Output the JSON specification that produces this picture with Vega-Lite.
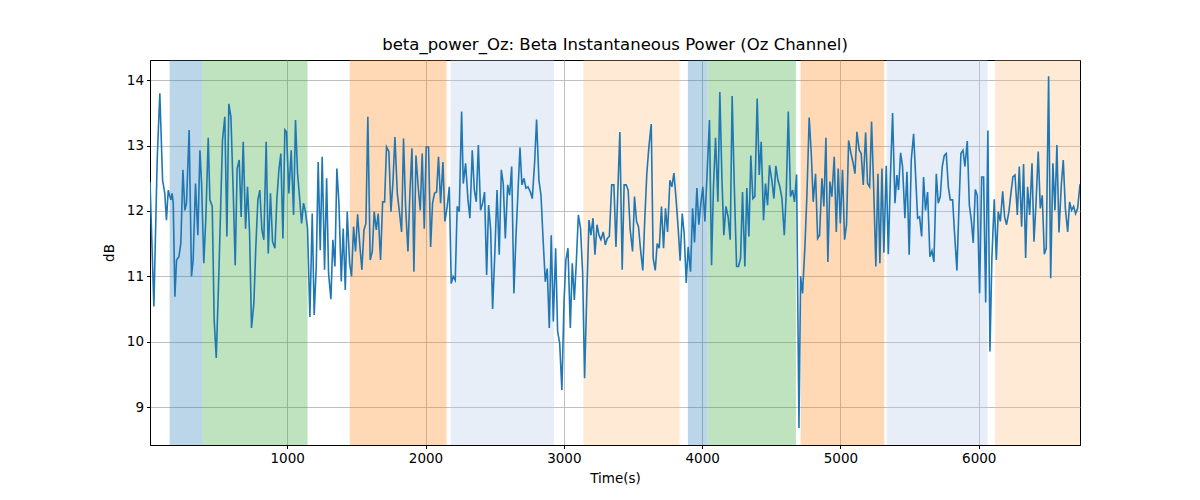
{
  "$schema": "https://vega.github.io/schema/vega-lite/v6.json",
  "width": 930,
  "height": 385,
  "autosize": {"type": "none"},
  "padding": {"left": 150, "top": 60, "right": 120, "bottom": 55},
  "background": "white",
  "title": {
    "text": "beta_power_Oz: Beta Instantaneous Power (Oz Channel)",
    "font": "DejaVu Sans",
    "fontSize": 16.5,
    "fontWeight": "normal",
    "color": "black",
    "offset": 7
  },
  "config": {
    "view": {"stroke": "black", "strokeWidth": 1},
    "axis": {
      "labelFont": "DejaVu Sans",
      "labelFontSize": 13.5,
      "labelColor": "black",
      "titleFont": "DejaVu Sans",
      "titleFontSize": 13.5,
      "titleFontWeight": "normal",
      "titleColor": "black",
      "domainColor": "black",
      "tickColor": "black",
      "tickSize": 3.5,
      "labelPadding": 3,
      "gridColor": "#b0b0b0",
      "gridWidth": 0.8,
      "gridOpacity": 1
    }
  },
  "datasets": {
    "spans": [
      {"start": 150, "end": 388, "phase": "s1"},
      {"start": 388, "end": 1147, "phase": "s2"},
      {"start": 1453, "end": 2152, "phase": "s3"},
      {"start": 2181, "end": 2929, "phase": "s4"},
      {"start": 3141, "end": 3837, "phase": "s5"},
      {"start": 3897, "end": 4039, "phase": "s1"},
      {"start": 4039, "end": 4678, "phase": "s2"},
      {"start": 4712, "end": 5317, "phase": "s3"},
      {"start": 5334, "end": 6064, "phase": "s4"},
      {"start": 6117, "end": 6732, "phase": "s5"}
    ],
    "power": [
      {"t": 8, "db": 12.45}, {"t": 36, "db": 10.54}, {"t": 60, "db": 12.78}, {"t": 79, "db": 13.8},
      {"t": 99, "db": 12.47}, {"t": 115, "db": 12.27}, {"t": 127, "db": 11.86}, {"t": 140, "db": 12.32},
      {"t": 152, "db": 12.22}, {"t": 159, "db": 12.17}, {"t": 168, "db": 12.27}, {"t": 176, "db": 12.12},
      {"t": 188, "db": 10.69}, {"t": 200, "db": 11.25}, {"t": 217, "db": 11.3}, {"t": 231, "db": 11.51},
      {"t": 246, "db": 12.63}, {"t": 260, "db": 12.01}, {"t": 272, "db": 12.12}, {"t": 291, "db": 13.24},
      {"t": 308, "db": 11.0}, {"t": 320, "db": 11.25}, {"t": 337, "db": 12.42}, {"t": 354, "db": 11.63},
      {"t": 369, "db": 12.93}, {"t": 381, "db": 12.42}, {"t": 397, "db": 11.2}, {"t": 412, "db": 11.91},
      {"t": 429, "db": 13.12}, {"t": 441, "db": 12.17}, {"t": 458, "db": 12.07}, {"t": 472, "db": 10.33},
      {"t": 487, "db": 9.75}, {"t": 506, "db": 11.05}, {"t": 532, "db": 13.08}, {"t": 549, "db": 13.44},
      {"t": 564, "db": 11.61}, {"t": 578, "db": 13.64}, {"t": 593, "db": 13.44}, {"t": 610, "db": 12.27},
      {"t": 624, "db": 11.17}, {"t": 638, "db": 12.65}, {"t": 653, "db": 12.78}, {"t": 667, "db": 11.91},
      {"t": 682, "db": 13.06}, {"t": 699, "db": 11.73}, {"t": 713, "db": 12.37}, {"t": 728, "db": 11.66},
      {"t": 742, "db": 10.21}, {"t": 759, "db": 10.59}, {"t": 773, "db": 11.45}, {"t": 788, "db": 12.17},
      {"t": 802, "db": 12.32}, {"t": 817, "db": 11.71}, {"t": 831, "db": 11.56}, {"t": 848, "db": 13.06},
      {"t": 863, "db": 11.35}, {"t": 879, "db": 12.27}, {"t": 894, "db": 11.53}, {"t": 911, "db": 11.43},
      {"t": 925, "db": 12.17}, {"t": 940, "db": 12.63}, {"t": 954, "db": 12.88}, {"t": 969, "db": 11.58},
      {"t": 983, "db": 13.24}, {"t": 995, "db": 13.21}, {"t": 1012, "db": 12.27}, {"t": 1029, "db": 12.93},
      {"t": 1046, "db": 11.94}, {"t": 1060, "db": 13.39}, {"t": 1075, "db": 12.57}, {"t": 1089, "db": 12.22},
      {"t": 1104, "db": 11.81}, {"t": 1118, "db": 12.12}, {"t": 1132, "db": 11.99}, {"t": 1147, "db": 11.73},
      {"t": 1164, "db": 10.38}, {"t": 1181, "db": 11.96}, {"t": 1195, "db": 10.41}, {"t": 1210, "db": 11.15},
      {"t": 1224, "db": 12.75}, {"t": 1239, "db": 11.4}, {"t": 1253, "db": 12.83}, {"t": 1270, "db": 11.1},
      {"t": 1285, "db": 12.5}, {"t": 1299, "db": 11.05}, {"t": 1316, "db": 10.65}, {"t": 1330, "db": 11.56},
      {"t": 1345, "db": 11.15}, {"t": 1359, "db": 12.65}, {"t": 1374, "db": 12.12}, {"t": 1391, "db": 10.92},
      {"t": 1405, "db": 11.73}, {"t": 1420, "db": 10.79}, {"t": 1434, "db": 11.99}, {"t": 1451, "db": 11.2},
      {"t": 1465, "db": 11.0}, {"t": 1480, "db": 11.76}, {"t": 1494, "db": 11.38}, {"t": 1509, "db": 11.95},
      {"t": 1526, "db": 11.45}, {"t": 1540, "db": 11.1}, {"t": 1555, "db": 11.71}, {"t": 1569, "db": 11.81},
      {"t": 1583, "db": 13.44}, {"t": 1600, "db": 11.25}, {"t": 1615, "db": 11.38}, {"t": 1629, "db": 11.99},
      {"t": 1644, "db": 11.71}, {"t": 1658, "db": 11.96}, {"t": 1675, "db": 11.25}, {"t": 1690, "db": 12.14},
      {"t": 1704, "db": 12.14}, {"t": 1718, "db": 12.98}, {"t": 1735, "db": 12.91}, {"t": 1750, "db": 11.99},
      {"t": 1764, "db": 12.42}, {"t": 1779, "db": 13.13}, {"t": 1796, "db": 12.27}, {"t": 1810, "db": 12.01},
      {"t": 1827, "db": 11.68}, {"t": 1841, "db": 13.11}, {"t": 1856, "db": 12.07}, {"t": 1873, "db": 11.38},
      {"t": 1887, "db": 12.27}, {"t": 1902, "db": 12.96}, {"t": 1916, "db": 11.07}, {"t": 1931, "db": 12.85},
      {"t": 1947, "db": 12.37}, {"t": 1962, "db": 12.01}, {"t": 1976, "db": 12.88}, {"t": 1991, "db": 11.73},
      {"t": 2005, "db": 12.98}, {"t": 2022, "db": 12.98}, {"t": 2037, "db": 11.45}, {"t": 2051, "db": 12.12},
      {"t": 2065, "db": 12.27}, {"t": 2080, "db": 12.29}, {"t": 2094, "db": 12.83}, {"t": 2109, "db": 12.12},
      {"t": 2126, "db": 12.75}, {"t": 2140, "db": 11.84}, {"t": 2157, "db": 12.07}, {"t": 2172, "db": 12.37},
      {"t": 2186, "db": 10.89}, {"t": 2200, "db": 11.0}, {"t": 2215, "db": 10.94}, {"t": 2229, "db": 12.07},
      {"t": 2244, "db": 11.99}, {"t": 2261, "db": 13.52}, {"t": 2273, "db": 12.42}, {"t": 2290, "db": 12.73},
      {"t": 2307, "db": 12.17}, {"t": 2321, "db": 11.89}, {"t": 2338, "db": 12.93}, {"t": 2353, "db": 12.32},
      {"t": 2367, "db": 12.14}, {"t": 2382, "db": 13.01}, {"t": 2398, "db": 12.01}, {"t": 2413, "db": 12.12},
      {"t": 2427, "db": 12.29}, {"t": 2442, "db": 11.02}, {"t": 2456, "db": 12.09}, {"t": 2471, "db": 11.71},
      {"t": 2485, "db": 10.5}, {"t": 2502, "db": 11.4}, {"t": 2517, "db": 12.32}, {"t": 2533, "db": 11.33},
      {"t": 2548, "db": 12.63}, {"t": 2562, "db": 12.42}, {"t": 2577, "db": 11.58}, {"t": 2594, "db": 12.4},
      {"t": 2608, "db": 12.24}, {"t": 2623, "db": 12.68}, {"t": 2639, "db": 10.74}, {"t": 2654, "db": 11.61},
      {"t": 2668, "db": 12.27}, {"t": 2683, "db": 12.97}, {"t": 2697, "db": 12.4}, {"t": 2712, "db": 12.5},
      {"t": 2726, "db": 12.35}, {"t": 2741, "db": 12.37}, {"t": 2758, "db": 12.29}, {"t": 2772, "db": 12.19},
      {"t": 2789, "db": 12.75}, {"t": 2803, "db": 13.4}, {"t": 2820, "db": 12.47}, {"t": 2835, "db": 12.24},
      {"t": 2849, "db": 11.61}, {"t": 2866, "db": 10.92}, {"t": 2880, "db": 11.12}, {"t": 2895, "db": 10.21},
      {"t": 2909, "db": 11.63}, {"t": 2924, "db": 10.31}, {"t": 2941, "db": 11.43}, {"t": 2955, "db": 10.16},
      {"t": 2970, "db": 9.98}, {"t": 2986, "db": 9.26}, {"t": 3001, "db": 10.59}, {"t": 3015, "db": 11.25},
      {"t": 3030, "db": 11.43}, {"t": 3047, "db": 10.21}, {"t": 3061, "db": 11.2}, {"t": 3076, "db": 10.64},
      {"t": 3090, "db": 11.2}, {"t": 3105, "db": 11.94}, {"t": 3121, "db": 11.73}, {"t": 3136, "db": 11.05},
      {"t": 3150, "db": 9.44}, {"t": 3165, "db": 10.64}, {"t": 3182, "db": 11.86}, {"t": 3196, "db": 11.63},
      {"t": 3211, "db": 11.89}, {"t": 3225, "db": 11.33}, {"t": 3240, "db": 11.79}, {"t": 3254, "db": 11.63},
      {"t": 3268, "db": 11.56}, {"t": 3285, "db": 11.68}, {"t": 3300, "db": 11.48}, {"t": 3314, "db": 11.58},
      {"t": 3329, "db": 11.61}, {"t": 3346, "db": 12.4}, {"t": 3362, "db": 12.4}, {"t": 3377, "db": 11.45},
      {"t": 3405, "db": 13.21}, {"t": 3422, "db": 11.1}, {"t": 3436, "db": 12.4}, {"t": 3451, "db": 12.4},
      {"t": 3465, "db": 12.32}, {"t": 3480, "db": 11.71}, {"t": 3497, "db": 11.38}, {"t": 3511, "db": 12.22},
      {"t": 3526, "db": 11.84}, {"t": 3540, "db": 11.76}, {"t": 3555, "db": 11.4}, {"t": 3571, "db": 11.09},
      {"t": 3586, "db": 11.91}, {"t": 3600, "db": 12.57}, {"t": 3615, "db": 12.98}, {"t": 3632, "db": 13.33},
      {"t": 3646, "db": 11.28}, {"t": 3661, "db": 11.09}, {"t": 3675, "db": 11.5}, {"t": 3690, "db": 11.43},
      {"t": 3706, "db": 12.07}, {"t": 3721, "db": 11.43}, {"t": 3735, "db": 12.04}, {"t": 3750, "db": 11.68},
      {"t": 3767, "db": 12.47}, {"t": 3781, "db": 12.37}, {"t": 3796, "db": 12.58}, {"t": 3812, "db": 12.17},
      {"t": 3827, "db": 11.73}, {"t": 3841, "db": 11.24}, {"t": 3856, "db": 11.96}, {"t": 3870, "db": 11.66},
      {"t": 3885, "db": 10.9}, {"t": 3899, "db": 11.45}, {"t": 3916, "db": 11.07}, {"t": 3931, "db": 12.04},
      {"t": 3945, "db": 11.52}, {"t": 3962, "db": 12.35}, {"t": 3976, "db": 11.79}, {"t": 3991, "db": 12.12},
      {"t": 4005, "db": 12.37}, {"t": 4020, "db": 11.84}, {"t": 4037, "db": 12.63}, {"t": 4053, "db": 13.39},
      {"t": 4068, "db": 11.17}, {"t": 4082, "db": 12.37}, {"t": 4097, "db": 13.12}, {"t": 4114, "db": 12.14},
      {"t": 4128, "db": 13.82}, {"t": 4143, "db": 12.5}, {"t": 4157, "db": 11.63}, {"t": 4172, "db": 12.07},
      {"t": 4188, "db": 11.91}, {"t": 4203, "db": 11.56}, {"t": 4217, "db": 13.76}, {"t": 4232, "db": 12.42},
      {"t": 4249, "db": 11.15}, {"t": 4263, "db": 11.15}, {"t": 4278, "db": 11.28}, {"t": 4292, "db": 12.29},
      {"t": 4309, "db": 11.15}, {"t": 4323, "db": 12.35}, {"t": 4338, "db": 11.61}, {"t": 4352, "db": 12.85},
      {"t": 4367, "db": 12.19}, {"t": 4381, "db": 12.22}, {"t": 4398, "db": 13.72}, {"t": 4413, "db": 12.55},
      {"t": 4427, "db": 13.06}, {"t": 4444, "db": 11.86}, {"t": 4458, "db": 12.42}, {"t": 4473, "db": 12.09},
      {"t": 4487, "db": 12.7}, {"t": 4504, "db": 12.47}, {"t": 4519, "db": 12.19}, {"t": 4533, "db": 12.69},
      {"t": 4548, "db": 12.47}, {"t": 4562, "db": 12.37}, {"t": 4577, "db": 12.19}, {"t": 4594, "db": 11.63},
      {"t": 4608, "db": 12.27}, {"t": 4623, "db": 13.52}, {"t": 4639, "db": 12.22}, {"t": 4654, "db": 12.32},
      {"t": 4668, "db": 12.14}, {"t": 4683, "db": 12.56}, {"t": 4700, "db": 8.68}, {"t": 4712, "db": 11.0},
      {"t": 4726, "db": 10.74}, {"t": 4743, "db": 11.45}, {"t": 4758, "db": 12.27}, {"t": 4774, "db": 13.43},
      {"t": 4789, "db": 12.88}, {"t": 4803, "db": 12.14}, {"t": 4820, "db": 12.57}, {"t": 4835, "db": 11.58},
      {"t": 4849, "db": 11.63}, {"t": 4866, "db": 12.5}, {"t": 4880, "db": 12.07}, {"t": 4895, "db": 13.12},
      {"t": 4909, "db": 11.22}, {"t": 4924, "db": 12.45}, {"t": 4938, "db": 12.22}, {"t": 4955, "db": 12.83},
      {"t": 4970, "db": 11.68}, {"t": 4984, "db": 12.65}, {"t": 4999, "db": 11.81}, {"t": 5015, "db": 12.63},
      {"t": 5030, "db": 11.56}, {"t": 5044, "db": 11.79}, {"t": 5059, "db": 13.08}, {"t": 5076, "db": 12.88},
      {"t": 5090, "db": 12.75}, {"t": 5105, "db": 12.57}, {"t": 5119, "db": 13.21}, {"t": 5136, "db": 12.93},
      {"t": 5150, "db": 12.88}, {"t": 5165, "db": 12.4}, {"t": 5182, "db": 13.2}, {"t": 5196, "db": 12.42},
      {"t": 5211, "db": 12.37}, {"t": 5225, "db": 13.37}, {"t": 5240, "db": 12.37}, {"t": 5256, "db": 11.15},
      {"t": 5271, "db": 12.57}, {"t": 5285, "db": 11.2}, {"t": 5300, "db": 12.65}, {"t": 5314, "db": 11.36},
      {"t": 5331, "db": 12.69}, {"t": 5346, "db": 11.34}, {"t": 5362, "db": 12.57}, {"t": 5377, "db": 13.5},
      {"t": 5394, "db": 12.12}, {"t": 5408, "db": 12.55}, {"t": 5420, "db": 12.32}, {"t": 5435, "db": 12.89},
      {"t": 5449, "db": 12.68}, {"t": 5466, "db": 11.89}, {"t": 5481, "db": 12.6}, {"t": 5497, "db": 11.33},
      {"t": 5512, "db": 12.78}, {"t": 5529, "db": 13.18}, {"t": 5544, "db": 12.52}, {"t": 5558, "db": 11.89},
      {"t": 5572, "db": 11.91}, {"t": 5587, "db": 11.61}, {"t": 5601, "db": 12.52}, {"t": 5615, "db": 12.01},
      {"t": 5630, "db": 12.29}, {"t": 5647, "db": 11.3}, {"t": 5662, "db": 11.39}, {"t": 5676, "db": 11.22},
      {"t": 5693, "db": 12.57}, {"t": 5707, "db": 12.12}, {"t": 5722, "db": 12.22}, {"t": 5736, "db": 12.68},
      {"t": 5751, "db": 12.85}, {"t": 5765, "db": 12.88}, {"t": 5780, "db": 12.37}, {"t": 5794, "db": 12.17},
      {"t": 5811, "db": 12.17}, {"t": 5825, "db": 11.66}, {"t": 5842, "db": 11.09}, {"t": 5857, "db": 12.07},
      {"t": 5871, "db": 12.88}, {"t": 5886, "db": 12.93}, {"t": 5900, "db": 12.68}, {"t": 5917, "db": 13.07},
      {"t": 5932, "db": 12.09}, {"t": 5946, "db": 11.86}, {"t": 5960, "db": 11.51}, {"t": 5975, "db": 12.33},
      {"t": 5989, "db": 12.24}, {"t": 6006, "db": 10.74}, {"t": 6021, "db": 12.52}, {"t": 6035, "db": 12.52},
      {"t": 6050, "db": 10.6}, {"t": 6066, "db": 13.23}, {"t": 6081, "db": 9.85}, {"t": 6095, "db": 11.28},
      {"t": 6112, "db": 12.18}, {"t": 6127, "db": 11.25}, {"t": 6141, "db": 11.99}, {"t": 6156, "db": 11.84},
      {"t": 6173, "db": 12.3}, {"t": 6187, "db": 11.91}, {"t": 6201, "db": 11.79}, {"t": 6218, "db": 11.99},
      {"t": 6233, "db": 12.28}, {"t": 6247, "db": 12.52}, {"t": 6262, "db": 12.55}, {"t": 6279, "db": 11.94},
      {"t": 6293, "db": 12.68}, {"t": 6310, "db": 11.76}, {"t": 6324, "db": 12.72}, {"t": 6339, "db": 11.28},
      {"t": 6353, "db": 12.37}, {"t": 6368, "db": 11.94}, {"t": 6385, "db": 12.73}, {"t": 6399, "db": 11.53},
      {"t": 6414, "db": 12.12}, {"t": 6430, "db": 12.91}, {"t": 6445, "db": 12.04}, {"t": 6459, "db": 12.24},
      {"t": 6474, "db": 11.34}, {"t": 6488, "db": 11.43}, {"t": 6505, "db": 14.06}, {"t": 6520, "db": 10.97},
      {"t": 6536, "db": 12.73}, {"t": 6551, "db": 12.01}, {"t": 6565, "db": 13.01}, {"t": 6580, "db": 11.67},
      {"t": 6597, "db": 12.4}, {"t": 6611, "db": 12.78}, {"t": 6626, "db": 12.04}, {"t": 6643, "db": 11.68},
      {"t": 6657, "db": 12.14}, {"t": 6671, "db": 12.01}, {"t": 6686, "db": 12.07}, {"t": 6700, "db": 11.96},
      {"t": 6715, "db": 12.04}, {"t": 6732, "db": 12.41}
    ]
  },
  "layer": [
    {
      "data": {"name": "spans"},
      "mark": {"type": "rect", "clip": true, "fillOpacity": 0.3},
      "encoding": {
        "x": {
          "field": "start",
          "type": "quantitative",
          "scale": {"domain": [8, 6732], "nice": false, "zero": false},
          "axis": {"values": [1000, 2000, 3000, 4000, 5000, 6000], "format": "d", "title": "Time(s)", "titlePadding": 6, "grid": true}
        },
        "x2": {"field": "end"},
        "color": {
          "field": "phase",
          "type": "nominal",
          "scale": {
            "domain": ["s1", "s2", "s3", "s4", "s5"],
            "range": ["#1f77b4", "#2ca02c", "#ff7f0e", "#aec7e8", "#ffbb78"]
          },
          "legend": null
        }
      }
    },
    {
      "data": {"name": "power"},
      "mark": {"type": "line", "color": "#1f77b4", "strokeWidth": 1.6, "clip": true},
      "encoding": {
        "x": {"field": "t", "type": "quantitative"},
        "y": {
          "field": "db",
          "type": "quantitative",
          "scale": {"domain": [8.42, 14.31], "nice": false, "zero": false},
          "axis": {"values": [9, 10, 11, 12, 13, 14], "title": "dB", "titlePadding": 10, "grid": true}
        }
      }
    }
  ]
}
